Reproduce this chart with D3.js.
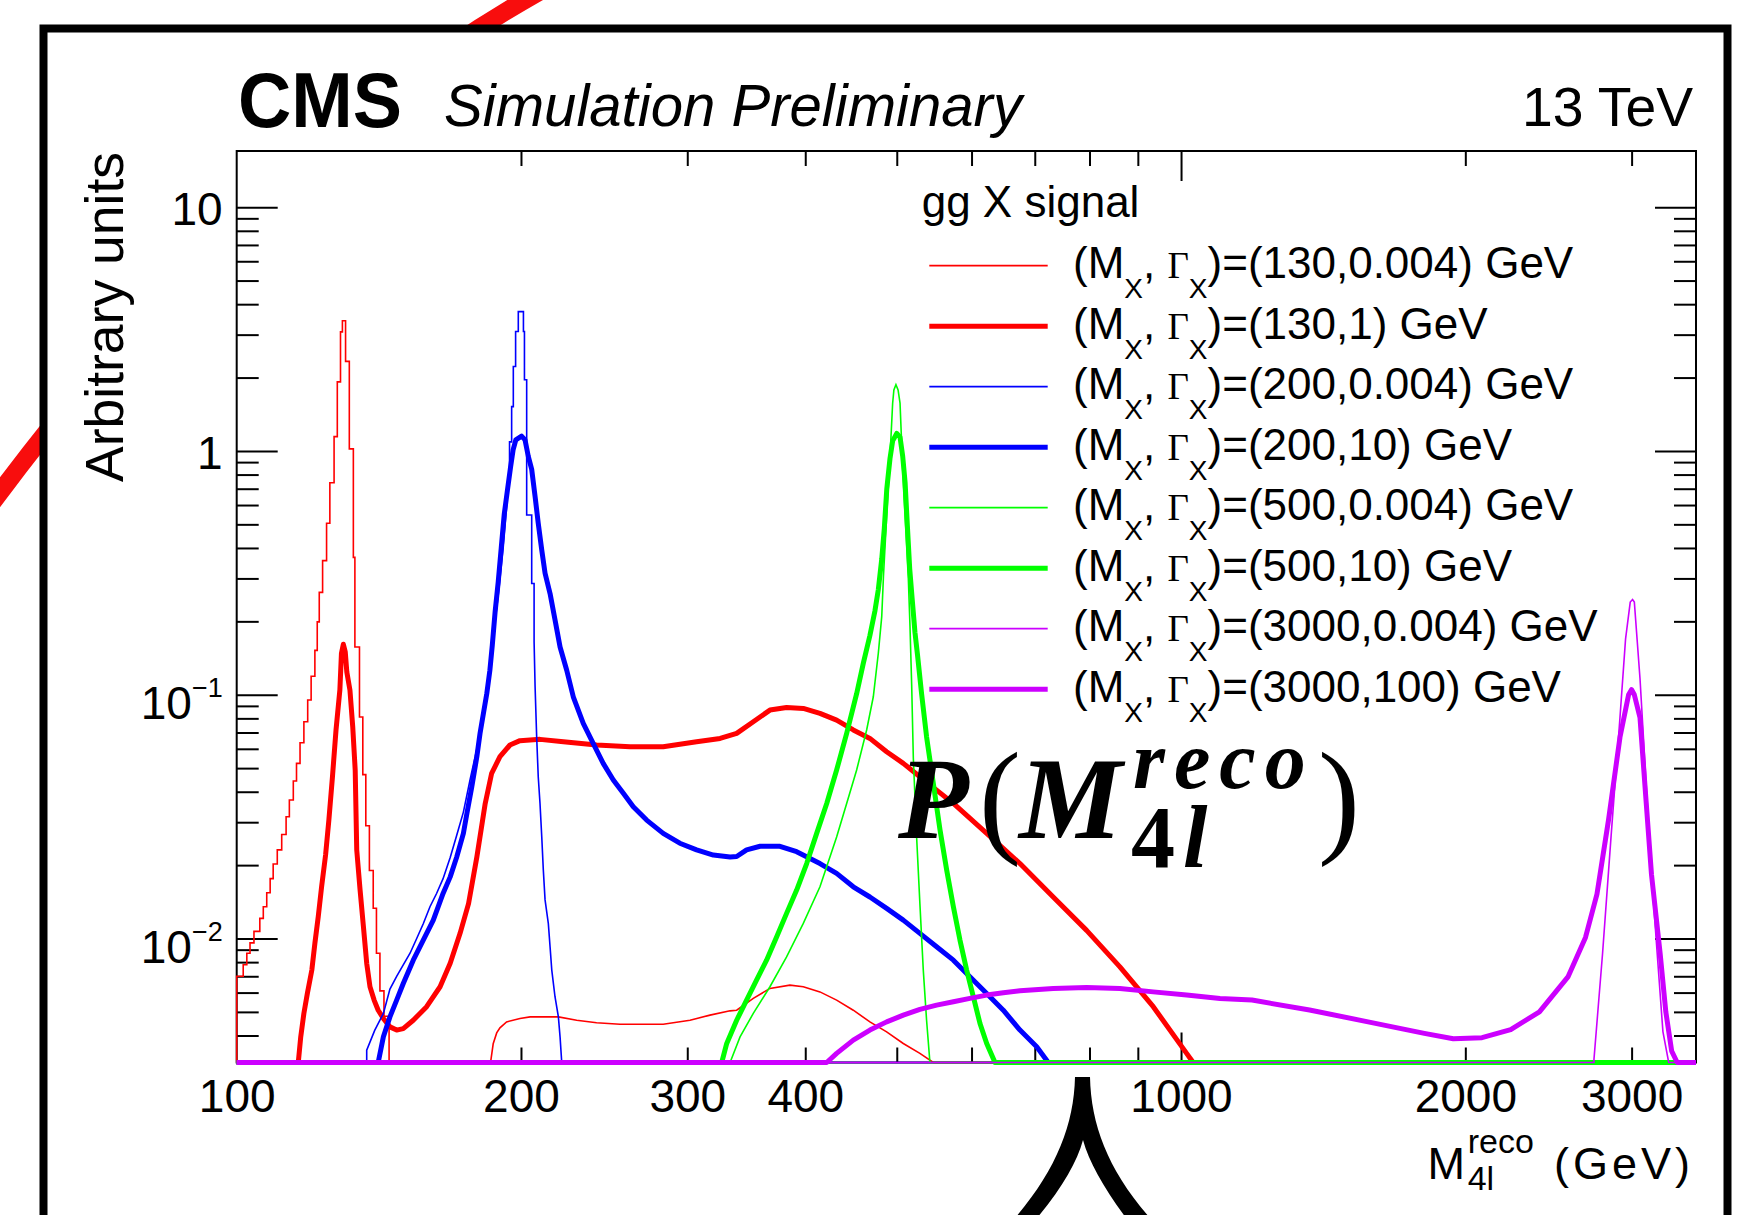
<!DOCTYPE html>
<html><head><meta charset="utf-8">
<script src="https://cdn.jsdelivr.net/npm/d3@7"></script>
<style>body{margin:0;background:#fff}svg{display:block}</style>
</head><body>
<svg id="c" width="1751" height="1215"></svg>
<script>
// ---------------- DATA ----------------
const xDomain = [100, 3510];
const yDomain = [0.0031, 17];
const xTickLabels = [100, 200, 300, 400, 1000, 2000, 3000];
const xMajorTicks = [1000];
const xMinorTicks = [200, 300, 400, 500, 600, 700, 800, 900, 2000, 3000];
const yLabelValues = [10, 1, 0.1, 0.01];
const yLabelTexts = ["10", "1", "10^{\u22121}", "10^{\u22122}"];

const legendTitle = "gg X signal";
const legendMass  = ["130", "130", "200", "200", "500", "500", "3000", "3000"];
const legendWidth = ["0.004", "1", "0.004", "10", "0.004", "10", "0.004", "100"];

// (M, Gamma) = (130, 0.004): bins [low, high, value] then smooth tail [mass, value]
const redThinBins = [
 [100,101.6,0.0070],[101.6,102.5,0.0078],[102.5,103.3,0.0087],[103.3,104.3,0.0096],[104.3,105.8,0.0107],
 [105.8,106.7,0.0121],[106.7,107.6,0.0135],[107.6,108.5,0.0154],[108.5,109.3,0.0176],[109.3,110.4,0.0202],
 [110.4,111.6,0.0231],[111.6,112.8,0.0267],[112.8,113.7,0.0316],[113.7,114.8,0.0370],[114.8,115.7,0.0443],
 [115.7,116.7,0.0523],[116.7,117.8,0.0635],[117.8,118.9,0.0775],[118.9,119.9,0.0951],[119.9,121.0,0.119],
 [121.0,121.7,0.152],[121.7,122.3,0.199],[122.3,123.3,0.263],[123.3,124.5,0.355],[124.5,125.5,0.505],
 [125.5,126.8,0.741],[126.8,127.8,1.145],[127.8,128.8,1.92],[128.8,129.4,3.08],[129.4,130.4,3.42],
 [130.4,131.6,2.33],[131.6,132.9,1.02],[132.9,133.4,0.366],[133.4,134.9,0.157],[134.9,136.0,0.081],
 [136.0,137.0,0.047],[137.0,138.2,0.029],[138.2,139.5,0.019],[139.5,140.6,0.0133],[140.6,141.8,0.0087],
 [141.8,143.2,0.0061],[143.2,145.0,0.0048],[145.0,185.7,0]
];
const redThinTail = [
 [185.7,0],[186.9,0.0037],[188.5,0.0041],[190,0.0043],[193.1,0.00455],[199.5,0.0047],[204.5,0.00477],
 [219.1,0.00477],[229.1,0.00462],[240.5,0.00451],[254.6,0.00445],[282.9,0.00445],[302,0.00462],
 [317.1,0.00485],[333,0.00505],[338.4,0.00508],[352.4,0.00568],[367,0.00624],[385.3,0.00644],
 [398.1,0.00634],[414.6,0.00604],[431.8,0.00559],[449.7,0.00508],[468.3,0.00455],[487.8,0.00414],
 [508,0.00371],[529,0.00338],[546.6,0.0031],[547,0],[3510,0]
];
// (130, 1)
const redThick = [
 [100,0],[116.2,0],[116.9,0.00395],[117.8,0.00493],[118.8,0.00595],[120.1,0.00742],[121.0,0.00955],
 [122.0,0.0123],[123.0,0.0163],[124.2,0.0220],[125.2,0.0306],[126.3,0.0461],[127.4,0.0717],[128.6,0.1045],
 [129.1,0.148],[129.7,0.161],[130.3,0.150],[130.8,0.124],[131.8,0.1045],[132.7,0.0739],[133.5,0.0491],
 [134.0,0.0231],[135.1,0.0158],[136.2,0.0112],[137.3,0.00791],[138.4,0.00634],[139.8,0.00559],
 [141.2,0.00508],[143.0,0.00470],[145.3,0.00434],[147.7,0.00421],[150.1,0.00427],[153.8,0.00462],
 [158.9,0.00525],[164.2,0.00634],[168.3,0.00791],[172.4,0.0105],[176,0.0139],[179.6,0.0216],
 [183.3,0.0358],[186.2,0.0476],[190,0.0557],[194.7,0.0622],[199.5,0.0648],[209.5,0.0656],[221.8,0.0641],
 [240.5,0.0622],[260.9,0.0612],[282.9,0.0612],[306.9,0.0641],[325,0.0662],[338.4,0.0694],[352.4,0.0775],
 [367,0.0865],[382.2,0.0887],[398.1,0.0879],[414.6,0.0839],[431.8,0.0787],[449.7,0.0717],[468.3,0.0662],
 [487.8,0.0584],[508,0.0523],[529,0.0461],[551,0.0406],[574,0.0358],[622.6,0.0270],[675.2,0.0203],
 [732.2,0.0148],[794.3,0.0108],[861.5,0.00765],[934.5,0.00525],[1013.7,0.00338],[1030,0.0031],[1031,0],[3510,0]
];
// (200, 0.004)
const blueThinRise = [
 [100,0],[137.3,0],[137.3,0.00348],[140,0.0042],[143,0.00493],[145.3,0.0062],[147.7,0.0070],[150.1,0.0078],
 [152.6,0.0087],[155.1,0.0100],[157.6,0.0115],[160.2,0.0135],[162.8,0.0153],[165.4,0.0176],[168.3,0.0215],
 [171,0.0265],[173.8,0.0330],[176.7,0.045],[179.6,0.060],[182.5,0.088],[185.4,0.13],[187.5,0.19],
 [189.5,0.27],[191.5,0.40],[193.2,0.60],[194.5,0.87]
];
const blueThinBins = [
 [194.5,195.5,1.09],[195.5,196.3,1.52],[196.3,197.4,2.22],[197.4,198.7,3.09],[198.7,201.2,3.73],
 [201.2,201.7,3.09],[201.7,202.8,1.96],[202.8,205.3,0.546],[205.3,206.5,0.286]
];
const blueThinFall = [
 [206.5,0.165],[207,0.108],[207.8,0.0672],[208.6,0.0461],[209.5,0.0358],[210.4,0.0261],[211.2,0.0191],
 [212.1,0.0144],[213.8,0.0115],[214.7,0.00925],[215.6,0.00742],[217.3,0.00577],[219.1,0.00477],
 [220,0.00395],[220.9,0.0031],[221,0],[3510,0]
];
// (200, 10)
const blueThick = [
 [100,0],[141.2,0],[143,0.00395],[145.3,0.00477],[147.7,0.00559],[150.1,0.00654],[153.8,0.00815],
 [157.6,0.00985],[161.5,0.0119],[165.4,0.0153],[168.3,0.0179],[171,0.0216],[173.8,0.0270],[175.3,0.0326],
 [177.4,0.0419],[179.6,0.0557],[181,0.0694],[182.5,0.0839],[184,0.101],[185.4,0.126],[186.5,0.16],
 [187.8,0.22],[189.2,0.29],[190.6,0.40],[192,0.55],[193.5,0.69],[195,0.86],[196.2,1.01],[197.5,1.11],
 [200.3,1.15],[202,1.11],[203.6,0.95],[205.3,0.84],[207,0.65],[208.6,0.505],[210.4,0.392],[212.1,0.315],
 [214.7,0.26],[217.3,0.203],[220,0.157],[223.6,0.126],[227.2,0.0981],[232.8,0.0763],[238.5,0.0632],
 [244.4,0.0523],[250.5,0.0447],[256.7,0.0394],[263,0.0347],[271.7,0.0306],[282.9,0.0270],[294.6,0.0246],
 [306.9,0.0231],[319.7,0.0220],[333,0.0216],[338.4,0.0217],[346.7,0.0231],[358.3,0.0239],[376.1,0.0239],
 [391.7,0.0227],[414.6,0.0203],[431.8,0.0185],[449.7,0.0163],[468.3,0.0148],[487.8,0.0133],[508,0.0119],
 [529,0.0105],[551,0.00925],[574,0.00815],[597.6,0.00697],[622.6,0.00595],[648.3,0.00508],[675.2,0.00421],
 [703.3,0.0036],[723.4,0.0031],[724,0],[3510,0]
];
// (500, 0.004)
const greenThin = [
 [100,0],[333,0],[333,0.0031],[341.2,0.00395],[352.4,0.00493],[367,0.00634],[382.2,0.0084],[398.1,0.01153],
 [414.6,0.0163],[431.8,0.0261],[442.5,0.0358],[453.4,0.0491],[464.6,0.0717],[472.2,0.0981],[478,0.148],
 [482,0.209],[484,0.305],[487.8,0.538],[491,0.836],[492.6,1.07],[495,1.57],[496.5,1.78],[499,1.87],
 [501.6,1.78],[504,1.57],[506,1.07],[508,0.737],[511.4,0.459],[514.3,0.30],[516.4,0.19],[518.5,0.11],
 [520.6,0.055],[524.8,0.0261],[529,0.0139],[533.4,0.00742],[537.7,0.00462],[542.1,0.0031],[542.2,0],[3510,0]
];
// (500, 10)
const greenThick = [
 [100,0],[326.3,0],[326.3,0.0031],[330.3,0.00371],[338.4,0.00462],[346.7,0.00559],[355.2,0.00675],
 [364,0.00815],[373.1,0.01016],[382.2,0.01268],[391.7,0.0158],[401.4,0.0203],[411.3,0.0270],[421.5,0.0358],
 [431.8,0.0491],[442.5,0.0694],[453.4,0.101],[460.8,0.1345],[468.3,0.175],[474,0.22],[478,0.27],[482,0.36],
 [485,0.48],[488,0.70],[491.8,0.93],[495,1.10],[500,1.18],[504,1.14],[507.3,0.95],[510.3,0.74],[513,0.50],
 [516,0.33],[519,0.25],[522.7,0.18],[526,0.145],[531.2,0.101],[537.7,0.0672],[546.6,0.0433],[555.6,0.0279],
 [564.7,0.0191],[574,0.0135],[583.3,0.00985],[592.9,0.00742],[602.6,0.00577],[612.5,0.00448],[622.6,0.00371],
 [635.3,0.0031],[635.4,0],[3510,0]
];
// (3000, 0.004)
const magentaThin = [
 [100,0],[2737,0],[2737,0.0032],[2795,0.0087],[2854,0.0265],[2916,0.0805],[2956,0.169],[2990,0.24],
 [3007,0.246],[3020,0.24],[3062,0.1166],[3105,0.0462],[3149,0.0183],[3193,0.0087],[3238,0.00415],
 [3284,0.0031],[3285,0],[3510,0]
];
// (3000, 100)
const magentaThick = [
 [100,0],[421.5,0],[421.5,0.0031],[431.8,0.00338],[449.7,0.00383],[468.3,0.00421],[487.8,0.00455],
 [508,0.00485],[529,0.00512],[551,0.00533],[574,0.0055],[597.6,0.00568],[622.6,0.00586],[648.3,0.00599],
 [675.2,0.0061],[732.2,0.00624],[794.3,0.0063],[861.5,0.00624],[934.5,0.00604],[1013.7,0.00586],
 [1099.7,0.00568],[1189,0.00559],[1368,0.00509],[1573,0.00456],[1810,0.00408],[1942,0.00388],[2083,0.00392],
 [2234,0.00423],[2396,0.005],[2570,0.00698],[2681,0.0101],[2757,0.0152],[2836,0.0307],[2916,0.0669],
 [2978,0.100],[3000,0.105],[3020,0.1],[3062,0.0805],[3105,0.0384],[3149,0.0183],[3216,0.0087],[3261,0.005],
 [3308,0.00345],[3353,0.0031],[3354,0],[3510,0]
];

// ---------------- DRAWING ----------------
const W = 1751, H = 1215;
const P = {l: 236.7, r: 1696, t: 151, b: 1062.5};
const SANS = '"Liberation Sans", Arial, Helvetica, sans-serif';
const SERIF = '"Liberation Serif", "Times New Roman", serif';

const x = d3.scaleLog().domain(xDomain).range([P.l, P.r]);
const y = d3.scaleLog().domain(yDomain).range([P.b, P.t]);
const yv = v => y(Math.max(v, yDomain[0]));

const svg = d3.select('#c').attr('font-family', SANS);
svg.append('rect').attr('width', W).attr('height', H).attr('fill', '#fff');

// decorative red stroke behind the panel
svg.append('path').attr('d', 'M 546 -12 Q 252 152 -8 503')
  .attr('fill', 'none').attr('stroke', '#f80d0d').attr('stroke-width', 18);
// outer panel
svg.append('rect').attr('x', 43.5).attr('y', 28.5).attr('width', 1684).attr('height', 1300)
  .attr('fill', '#fff').attr('stroke', '#000').attr('stroke-width', 8);

// axes ticks
function styleAxis(g) {
  g.select('.domain').remove();
  g.selectAll('.tick line').attr('stroke', '#000').attr('stroke-width', 2);
}
const yMinor = [];
[0.001, 0.01, 0.1, 1].forEach(d => { for (let k = 2; k <= 9; k++) { const v = k * d; if (v > yDomain[0] && v < yDomain[1]) yMinor.push(v); } });

const gAx = svg.append('g');
// bottom
gAx.append('g').attr('transform', `translate(0,${P.b})`)
  .call(d3.axisBottom(x).tickValues(xMinorTicks).tickSizeInner(-15).tickSizeOuter(0).tickFormat('')).call(styleAxis);
gAx.append('g').attr('transform', `translate(0,${P.b})`)
  .call(d3.axisBottom(x).tickValues(xMajorTicks).tickSizeInner(-30).tickSizeOuter(0).tickFormat('')).call(styleAxis);
const xl = gAx.append('g').attr('transform', `translate(0,${P.b})`)
  .call(d3.axisBottom(x).tickValues(xTickLabels).tickSize(0).tickPadding(16.5).tickFormat(d3.format('d')));
xl.select('.domain').remove();
xl.selectAll('text').attr('font-size', 46).attr('font-family', SANS).attr('fill', '#000');
// top
gAx.append('g').attr('transform', `translate(0,${P.t})`)
  .call(d3.axisTop(x).tickValues(xMinorTicks).tickSizeInner(-15).tickSizeOuter(0).tickFormat('')).call(styleAxis);
gAx.append('g').attr('transform', `translate(0,${P.t})`)
  .call(d3.axisTop(x).tickValues(xMajorTicks).tickSizeInner(-30).tickSizeOuter(0).tickFormat('')).call(styleAxis);
// left
gAx.append('g').attr('transform', `translate(${P.l},0)`)
  .call(d3.axisLeft(y).tickValues(yMinor).tickSizeInner(-22).tickSizeOuter(0).tickFormat('')).call(styleAxis);
gAx.append('g').attr('transform', `translate(${P.l},0)`)
  .call(d3.axisLeft(y).tickValues(yLabelValues).tickSizeInner(-41).tickSizeOuter(0).tickFormat('')).call(styleAxis);
const yl = gAx.append('g').attr('transform', `translate(${P.l},0)`)
  .call(d3.axisLeft(y).tickValues(yLabelValues).tickSize(0).tickPadding(14).tickFormat((d, i) => yLabelTexts[i]));
yl.select('.domain').remove();
yl.selectAll('.tick text').each(function (d, i) {
  const t = d3.select(this);
  const s = yLabelTexts[i];
  t.text(null).attr('font-size', 46).attr('font-family', SANS).attr('fill', '#000');
  const m = s.match(/^(.*)\^\{(.*)\}$/);
  if (m) {
    t.attr('dy', 24);
    t.append('tspan').text(m[1]);
    t.append('tspan').attr('font-size', 27).attr('dy', -22).text(m[2]);
  } else {
    t.attr('dy', 17.5).text(s);
  }
});
// right
gAx.append('g').attr('transform', `translate(${P.r},0)`)
  .call(d3.axisRight(y).tickValues(yMinor).tickSizeInner(-22).tickSizeOuter(0).tickFormat('')).call(styleAxis);
gAx.append('g').attr('transform', `translate(${P.r},0)`)
  .call(d3.axisRight(y).tickValues(yLabelValues).tickSizeInner(-41).tickSizeOuter(0).tickFormat('')).call(styleAxis);
// frame
svg.append('rect').attr('x', P.l).attr('y', P.t).attr('width', P.r - P.l).attr('height', P.b - P.t)
  .attr('fill', 'none').attr('stroke', '#000').attr('stroke-width', 2);

// histograms
const RED = '#ff0000', BLUE = '#0000ff', GREEN = '#00ff00', MAG = '#cc00ff';
const THIN = 1.6, THICK = 5;
const series = [
  {parts: [{points: [[100, 0]]}, {bins: redThinBins}, {points: redThinTail}], color: RED, w: THIN},
  {parts: [{points: redThick}], color: RED, w: THICK},
  {parts: [{points: blueThinRise}, {bins: blueThinBins}, {points: blueThinFall}], color: BLUE, w: THIN},
  {parts: [{points: blueThick}], color: BLUE, w: THICK},
  {parts: [{points: greenThin}], color: GREEN, w: THIN},
  {parts: [{points: greenThick}], color: GREEN, w: THICK},
  {parts: [{points: magentaThin}], color: MAG, w: THIN},
  {parts: [{points: magentaThick}], color: MAG, w: THICK}
];
const line = d3.line().x(d => x(d[0])).y(d => yv(d[1]));
const gH = svg.append('g');
series.forEach(s => {
  const pts = [];
  s.parts.forEach(p => {
    if (p.bins) p.bins.forEach(([lo, hi, v]) => { pts.push([lo, v]); pts.push([hi, v]); });
    else p.points.forEach(q => pts.push(q));
  });
  gH.append('path').attr('d', line(pts)).attr('fill', 'none')
    .attr('stroke', s.color).attr('stroke-width', s.w)
    .attr('stroke-linejoin', s.w > 2 ? 'round' : 'miter');
});

// legend
const gL = svg.append('g').attr('fill', '#000');
gL.append('text').attr('x', 921.7).attr('y', 216.7).attr('font-size', 44).text(legendTitle);
legendMass.forEach((m, i) => {
  const s = series[i];
  const ly = 265.7 + 60.5 * i;
  gL.append('line').attr('x1', 929.3).attr('x2', 1047.7).attr('y1', ly).attr('y2', ly)
    .attr('stroke', s.color).attr('stroke-width', s.w > 2 ? 5 : 1.7);
  const t = gL.append('text').attr('x', 1073).attr('y', ly + 12.6).attr('font-size', 44);
  t.append('tspan').text('(M');
  t.append('tspan').attr('font-size', 28).attr('dy', 20).text('X');
  t.append('tspan').attr('dy', -20).text(', ');
  t.append('tspan').attr('font-family', SERIF).attr('font-size', 37).text('\u0393');
  t.append('tspan').attr('font-size', 28).attr('dy', 20).text('X');
  t.append('tspan').attr('dy', -20).text(`)=(${m},${legendWidth[i]}) GeV`);
});

// header texts
svg.append('text').attr('x', 238).attr('y', 127).attr('font-size', 78).attr('font-weight', 'bold')
  .attr('textLength', 164).attr('lengthAdjust', 'spacingAndGlyphs').text('CMS');
svg.append('text').attr('x', 444).attr('y', 126).attr('font-size', 59).attr('font-style', 'italic')
  .attr('textLength', 578).attr('lengthAdjust', 'spacingAndGlyphs').text('Simulation Preliminary');
svg.append('text').attr('x', 1522).attr('y', 126).attr('font-size', 55)
  .attr('textLength', 171).attr('lengthAdjust', 'spacingAndGlyphs').text('13 TeV');

// axis titles
svg.append('text').attr('transform', 'translate(123.4,482) rotate(-90)').attr('font-size', 54)
  .attr('textLength', 330).attr('lengthAdjust', 'spacingAndGlyphs').text('Arbitrary units');
const xt = svg.append('text').attr('font-size', 45);
xt.append('tspan').attr('x', 1427.5).attr('y', 1178.5).text('M');
xt.append('tspan').attr('x', 1467.7).attr('y', 1153).attr('font-size', 34).text('reco');
xt.append('tspan').attr('x', 1467.7).attr('y', 1190).attr('font-size', 34).text('4l');
xt.append('tspan').attr('x', 1554).attr('y', 1178.5).attr('letter-spacing', 4).text('(GeV)');

// big annotation P(M_4l^reco), one text element
const pm = svg.append('text').attr('fill', '#000').attr('font-family', SERIF);
pm.append('tspan').attr('x', 898).attr('y', 838.3).attr('font-size', 116)
  .attr('font-weight', 'bold').attr('font-style', 'italic').text('P');
pm.append('tspan').attr('x', 979).attr('y', 840).attr('font-size', 126).text('(');
pm.append('tspan').attr('x', 1019).attr('y', 838.3).attr('font-size', 116)
  .attr('font-weight', 'bold').attr('font-style', 'italic').text('M');
pm.append('tspan').attr('x', 1133).attr('y', 788).attr('font-size', 82).attr('letter-spacing', 9)
  .attr('font-weight', 'bold').attr('font-style', 'italic').text('reco');
pm.append('tspan').attr('x', 1131).attr('y', 866.7).attr('font-size', 88)
  .attr('font-weight', 'bold').text('4');
pm.append('tspan').attr('x', 1183).attr('y', 866.7).attr('font-size', 88)
  .attr('font-weight', 'bold').attr('font-style', 'italic').text('l');
pm.append('tspan').attr('x', 1318).attr('y', 840).attr('font-size', 126).text(')');

// brace cusp below the axis
svg.append('path').attr('fill', '#000').attr('d',
  'M 1075 1077 L 1090 1077 C 1091 1125 1108 1170 1150 1218 L 1126 1218 ' +
  'C 1104 1188 1089 1162 1083 1140 C 1077 1162 1062 1188 1037 1218 L 1015 1218 ' +
  'C 1056 1170 1074 1125 1075 1077 Z');
</script>
</body></html>
